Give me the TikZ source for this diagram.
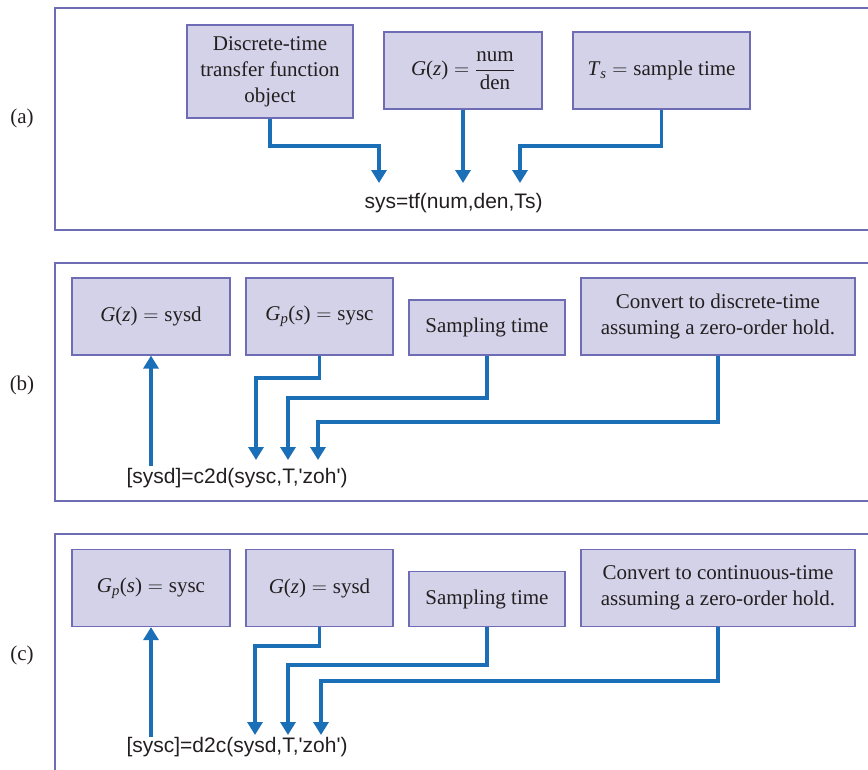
\RequirePackage{fix-cm}
\documentclass[tikz,border=0pt]{standalone}
\usepackage{amsmath}
\usepackage{fontspec}
\setmainfont{Liberation Serif}
\setsansfont{Liberation Sans}
\usetikzlibrary{arrows.meta}
\definecolor{boxfill}{HTML}{D4D2E8}
\definecolor{boxline}{HTML}{6E6CB4}
\definecolor{arrowblue}{HTML}{1B6FB6}
\definecolor{txt}{HTML}{231F20}
\tikzset{
  blk/.style={draw=boxline, fill=boxfill, line width=1.2pt, inner sep=0pt, align=center,
    font=\fontsize{21}{26}\selectfont, text=txt},
  panel/.style={draw=boxline, line width=1.2pt},
  arr/.style={draw=arrowblue, line width=3.2pt, -{Triangle[width=15pt,length=13pt]}},
  code/.style={font=\sffamily\fontsize{21}{26}\selectfont, text=txt, anchor=base, inner sep=0pt},
  lab/.style={font=\fontsize{21}{26}\selectfont, text=txt, inner sep=0pt}
}
\begin{document}
\begin{tikzpicture}[x=1pt,y=-1pt]
\useasboundingbox (0,0) rectangle (868,769);
\clip (0,0) rectangle (868,769);
% panels
\draw[panel] (55,8) rectangle (880,230);
\draw[panel] (55,263) rectangle (880,501);
\draw[panel] (55,534) rectangle (880,790);
\node[lab] (la) at (22,118) {(a)};
\node[lab] (lb) at (22,385) {(b)};
\node[lab] (lc) at (22,655) {(c)};
% (a)
\node[blk, minimum width=166pt, minimum height=93pt] (a1) at (270,71.5) {Discrete-time\\transfer function\\object};
\node[blk, minimum width=158pt, minimum height=77pt] (a2) at (463,70.5) {$\text{\textit{G}(\textit{z})} = \dfrac{\text{num}}{\text{den}}$};
\node[blk, minimum width=177pt, minimum height=77pt] (a3) at (661.5,70.5) {\raisebox{3pt}{$\text{\textit{T}}_{\text{\textit{s}}} = \text{sample time}$}};
\node[code] (tf) at (453.5,208) {sys=tf(num,den,Ts)};
\coordinate (ta1) at (379,183);
\coordinate (ta2) at (463,183);
\coordinate (ta3) at (520,183);
\draw[arr] (a1.south) |- ([yshift=37pt]ta1) -- (ta1);
\draw[arr] (a2.south) -- (ta2);
\draw[arr] (a3.south) |- ([yshift=37pt]ta3) -- (ta3);
% (b)
\node[blk, minimum width=158pt, minimum height=77pt] (b1) at (151,316.5) {$\text{\textit{G}(\textit{z})} = \text{sysd}$};
\node[blk, minimum width=147pt, minimum height=77pt] (b2) at (319.5,316.5) {$\text{\textit{G}}_{\text{\textit{p}}}\text{(\textit{s})} = \text{sysc}$};
\node[blk, minimum width=156pt, minimum height=55pt] (b3) at (487,327.5) {Sampling time};
\node[blk, minimum width=274pt, minimum height=77pt] (b4) at (718,316.5) {Convert to discrete-time\\assuming a zero-order hold.};
\node[code] (c2d) at (237,483) {[sysd]=c2d(sysc,T,\textquotesingle zoh\textquotesingle)};
\coordinate (sb1) at (151,466);
\coordinate (tb2) at (256,460);
\coordinate (tb3) at (288,460);
\coordinate (tb4) at (318,460);
\draw[arr] (sb1) -- (b1.south);
\draw[arr] (b2.south) |- ([yshift=82pt]tb2) -- (tb2);
\draw[arr] (b3.south) |- ([yshift=62pt]tb3) -- (tb3);
\draw[arr] (b4.south) |- ([yshift=38pt]tb4) -- (tb4);
% (c)
\node[blk, minimum width=158pt, minimum height=77pt] (c1) at (151,588) {$\text{\textit{G}}_{\text{\textit{p}}}\text{(\textit{s})} = \text{sysc}$};
\node[blk, minimum width=147pt, minimum height=77pt] (c2) at (319.5,588) {$\text{\textit{G}(\textit{z})} = \text{sysd}$};
\node[blk, minimum width=156pt, minimum height=55pt] (c3) at (487,599) {Sampling time};
\node[blk, minimum width=274pt, minimum height=77pt] (c4) at (718,588) {Convert to continuous-time\\assuming a zero-order hold.};
\node[code] (d2c) at (237,752) {[sysc]=d2c(sysd,T,\textquotesingle zoh\textquotesingle)};
\coordinate (sc1) at (151,737);
\coordinate (tc2) at (255,735);
\coordinate (tc3) at (288,735);
\coordinate (tc4) at (321,735);
\draw[arr] (sc1) -- (c1.south);
\draw[arr] (c2.south) |- ([yshift=89pt]tc2) -- (tc2);
\draw[arr] (c3.south) |- ([yshift=70pt]tc3) -- (tc3);
\draw[arr] (c4.south) |- ([yshift=54pt]tc4) -- (tc4);
\end{tikzpicture}
\end{document}
